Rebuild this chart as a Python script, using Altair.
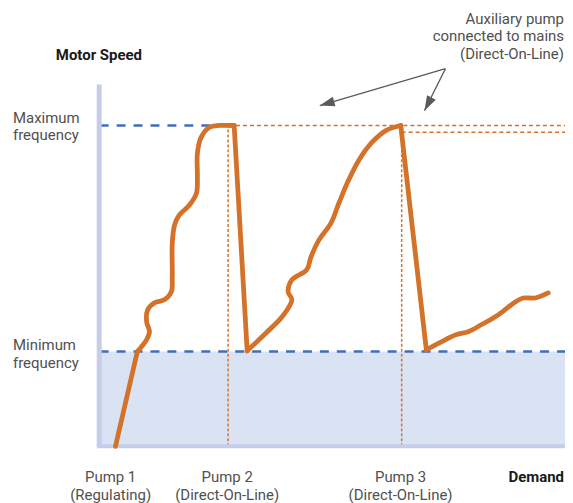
import altair as alt
import pandas as pd

# ---- data (demand % on x, motor speed % on y) ----
MAX_F = 88.7
MIN_F = 26.2
MAX_F2 = 86.8
PUMP2_X = 27.6
PUMP3_X = 64.9

start_x = [3.4, 8.1]
start_y = [0.0, 26.2]
seg1_x = [8.1, 10.1, 10.7, 10.1, 10.3, 11.8, 13.9, 15.4, 15.6, 15.6, 16.1, 17.1, 19.3, 20.8, 21.0, 21.0, 21.8, 23.6, 25.7, 28.9]
seg1_y = [26.2, 29.5, 31.7, 34.4, 37.7, 39.7, 40.5, 42.7, 46.8, 56.2, 61.2, 63.9, 66.7, 70.0, 74.4, 81.0, 85.4, 88.2, 88.7, 88.7]
seg2_x = [31.7, 35.8, 39.2, 41.3, 40.5, 41.3, 44.5, 45.4, 47.1, 49.7, 51.4, 53.5, 55.7, 58.5, 61.5, 64.7]
seg2_y = [26.4, 31.4, 35.8, 40.5, 42.7, 46.0, 48.8, 52.3, 57.0, 61.7, 67.2, 73.6, 79.1, 84.0, 87.3, 88.7]
seg3_x = [70.2, 73.4, 76.7, 79.2, 82.0, 85.7, 89.3, 91.0, 93.6, 96.4]
seg3_y = [26.7, 28.9, 30.9, 31.7, 33.6, 36.4, 39.9, 41.0, 41.0, 42.4]

# arrows: common origin and two tips
arrow_from = (74.3, 104.4)
arrow_tips_x = [47.3, 69.8]
arrow_tips_y = [94.2, 92.8]
arrow_angles = [253.8, 207.6]

labels_max = "Maximum\nfrequency"
labels_min = "Minimum\nfrequency"
label_aux = "Auxiliary pump\nconnected to mains\n(Direct-On-Line)"
label_p1 = "Pump 1\n(Regulating)"
label_p2 = "Pump 2\n(Direct-On-Line)"
label_p3 = "Pump 3\n(Direct-On-Line)"

ORANGE = "#d4722a"
BLUE = "#3f6fba"
SHADE = "#dae3f4"
BAR = "#c5cde9"
TXT = "#505050"

# ---- build tables ----
rows = []
for sid, xs_, ys_ in [("a", seg1_x, seg1_y), ("b", seg2_x, seg2_y), ("c", seg3_x, seg3_y)]:
    for i, (x, y) in enumerate(zip(xs_, ys_)):
        rows.append({"seg": sid, "i": i, "x": x, "y": y})
curve = pd.DataFrame(rows)

drops = pd.DataFrame([
    {"seg": "d0", "i": 0, "x": start_x[0], "y": start_y[0]},
    {"seg": "d0", "i": 1, "x": start_x[1], "y": start_y[1]},
    {"seg": "d1", "i": 0, "x": seg1_x[-1], "y": seg1_y[-1]},
    {"seg": "d1", "i": 1, "x": seg2_x[0], "y": seg2_y[0]},
    {"seg": "d2", "i": 0, "x": seg2_x[-1], "y": seg2_y[-1]},
    {"seg": "d2", "i": 1, "x": seg3_x[0], "y": seg3_y[0]},
])

xs = alt.Scale(domain=[0, 100], nice=False, zero=False)
ys = alt.Scale(domain=[0, 100], nice=False, zero=False)

def X(f="x"):
    return alt.X(f, type="quantitative", scale=xs, axis=None)

def Y(f="y"):
    return alt.Y(f, type="quantitative", scale=ys, axis=None)

shade = alt.Chart(pd.DataFrame({"x": [0], "x2": [100], "y": [0], "y2": [MIN_F]})).mark_rect(color=SHADE).encode(
    x=X(), x2="x2", y=Y(), y2="y2")

ybar = alt.Chart(pd.DataFrame({"x": [-0.1], "y": [0], "y2": [100]})).mark_rule(color=BAR, strokeWidth=5).encode(
    x=X(), y=Y(), y2="y2")
xbar = alt.Chart(pd.DataFrame({"x": [-0.6], "x2": [100], "y": [0]})).mark_rule(color=BAR, strokeWidth=4).encode(
    x=X(), x2="x2", y=Y())

blue_dash = alt.Chart(pd.DataFrame({"x": [0, 0], "x2": [25.0, 100], "y": [MAX_F, MIN_F]})).mark_rule(
    color=BLUE, strokeWidth=2.5, strokeDash=[9, 8]).encode(x=X(), x2="x2", y=Y())

orange_dash = alt.Chart(pd.DataFrame({"x": [29.3, PUMP3_X], "x2": [100, 100], "y": [MAX_F, MAX_F2]})).mark_rule(
    color=ORANGE, strokeWidth=1.5, strokeDash=[4, 3]).encode(x=X(), x2="x2", y=Y())

orange_vert = alt.Chart(pd.DataFrame({"x": [PUMP2_X, PUMP3_X], "y": [0, 0], "y2": [MAX_F, MAX_F2]})).mark_rule(
    color=ORANGE, strokeWidth=1.5, strokeDash=[3, 2]).encode(x=X(), y=Y(), y2="y2")

curve_line = alt.Chart(curve).mark_line(color=ORANGE, strokeWidth=4.8, interpolate="catmull-rom",
                                        strokeCap="round", strokeJoin="round").encode(
    x=X(), y=Y(), detail="seg:N", order="i:Q")
drop_line = alt.Chart(drops).mark_line(color=ORANGE, strokeWidth=4.8, strokeCap="round", strokeJoin="round").encode(
    x=X(), y=Y(), detail="seg:N", order="i:Q")

arr = pd.DataFrame({"x": [arrow_from[0]] * 2, "y": [arrow_from[1]] * 2,
                    "x2": arrow_tips_x, "y2": arrow_tips_y, "ang": arrow_angles})
arrow_lines = alt.Chart(arr).mark_rule(color="#5a5a5a", strokeWidth=1.3).encode(
    x=X(), y=Y(), x2="x2", y2="y2")
arrow_heads = alt.Chart(arr).mark_point(shape="M0,0 L-0.33,1 L0.33,1 Z", filled=True, color="#5a5a5a",
                                        size=900, opacity=1).encode(
    x=X("x2"), y=Y("y2"), angle=alt.Angle("ang:Q", scale=None))

def txt(text, x, y, align="left", bold=False, color=TXT):
    return alt.Chart(pd.DataFrame({"t": [text]})).mark_text(
        align=align, baseline="alphabetic", font="Roboto", fontSize=15,
        fontWeight="bold" if bold else "normal", color=color, lineBreak="\n", lineHeight=17.5).encode(
        text="t:N", x=alt.value(x), y=alt.value(y))

texts = [
    txt("Motor Speed", -44, -25, bold=True, color="#1a1a1a"),
    txt(labels_max, -87, 38.5),
    txt(labels_min, -87, 266.5),
    txt(label_aux, 466, -61, align="right"),
    txt(label_p1, 11, 399, align="center"),
    txt(label_p2, 128, 399, align="center"),
    txt(label_p3, 302, 399, align="center"),
    txt("Demand", 466, 399, align="right", bold=True, color="#1a1a1a"),
]

chart = alt.layer(shade, blue_dash, orange_dash, orange_vert, ybar, xbar, curve_line, drop_line,
                  arrow_lines, arrow_heads, *texts).properties(
    width=467, height=363,
    padding={"left": 92, "top": 76, "right": 0, "bottom": 56},
    autosize=alt.AutoSizeParams(type="none"),
).configure_view(stroke=None)

chart.save("out.html", embed_options={"renderer": "svg", "actions": False})
